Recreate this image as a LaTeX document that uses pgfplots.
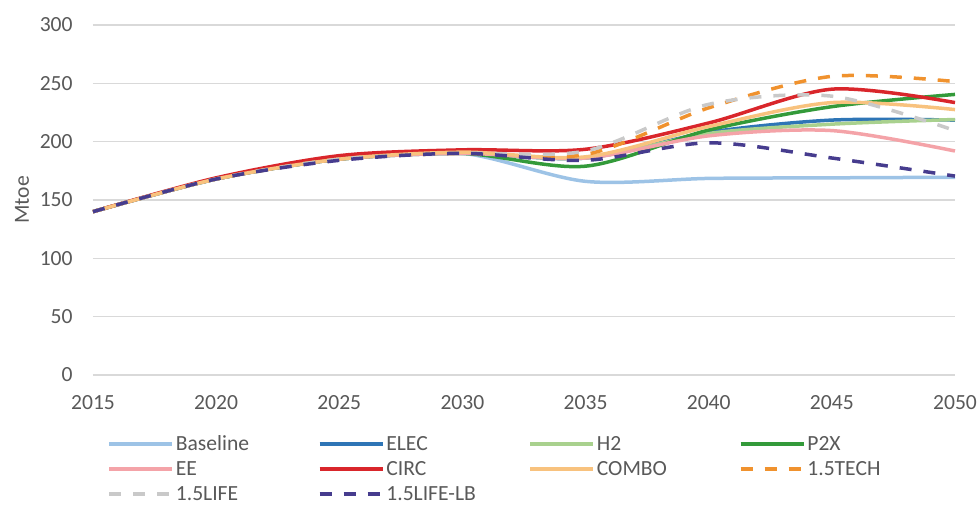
\documentclass[border=0pt]{standalone}
\usepackage{pgfplots}
\pgfplotsset{compat=1.18}
\usepackage{fontspec}
\setmainfont{Carlito}

\definecolor{cBase}{HTML}{9DC3E6}
\definecolor{cElec}{HTML}{2E75B6}
\definecolor{cHtwo}{HTML}{A9D18E}
\definecolor{cPtwoX}{HTML}{339A3A}
\definecolor{cEE}{HTML}{F4A3A8}
\definecolor{cCirc}{HTML}{D9262B}
\definecolor{cCombo}{HTML}{F8C27E}
\definecolor{cTech}{HTML}{F0922E}
\definecolor{cLife}{HTML}{C9C9C9}
\definecolor{cLifeLB}{HTML}{463C8E}
\definecolor{txt}{HTML}{595959}
\definecolor{gridc}{HTML}{D9D9D9}

\newcommand{\legtext}[1]{\makebox[71pt][l]{#1}}

\begin{document}
\fontsize{10.8}{13}\selectfont
\begin{tikzpicture}
\path[use as bounding box] (-46.5pt,-64.5pt) rectangle (443pt,187.5pt);
\begin{axis}[
  scale only axis,
  width=431pt, height=175pt,
  xmin=2015, xmax=2050, ymin=0, ymax=300,
  xtick={2015,2020,...,2050},
  ytick={0,50,...,300},
  /pgf/number format/1000 sep={},
  /pgf/number format/assume math mode=true,
  major tick length=0pt,
  axis line style={draw=none},
  ymajorgrids,
  major grid style={draw=gridc, line width=0.75pt},
  tick label style={font=\fontsize{10.8}{13}\selectfont, text=txt},
  xticklabel style={anchor=center, inner sep=0pt, yshift=-14pt},
  yticklabel style={anchor=east, inner sep=0pt, xshift=-10pt},
  ylabel={Mtoe},
  ylabel style={at={(axis description cs:-0.0824,0.5)}, anchor=center, font=\fontsize{10.8}{13}\selectfont, text=txt},
  clip=false,
  every axis plot/.append style={smooth, line width=1.75pt},
  legend columns=4,
  legend image code/.code={\draw[#1] (0pt,0pt) -- (31.5pt,0pt);},
  legend style={
    at={(axis description cs:0.0162,-0.1714)}, anchor=north west,
    draw=none, fill=none, inner sep=0pt,
    font=\fontsize{10.8}{13}\selectfont, text=txt,
    nodes={inner sep=0pt, text height=7.5pt, text depth=1pt},
    row sep=4pt,
    /tikz/every odd column/.style={column sep=1pt},
    /tikz/every even column/.style={column sep=0pt},
  },
]
% years: 2015 2020 2025 2030 2035 2040 2045 2050
\addplot[cBase] coordinates {(2015,140) (2020,168) (2025,185) (2030,190) (2035,166) (2040,168.5) (2045,169) (2050,169.5)};
\addlegendentry{\legtext{Baseline}}
\addplot[cElec] coordinates {(2015,140) (2020,168) (2025,185) (2030,190) (2035,186) (2040,208) (2045,218.5) (2050,218.5)};
\addlegendentry{\legtext{ELEC}}
\addplot[cHtwo] coordinates {(2015,140) (2020,168) (2025,185) (2030,190) (2035,186) (2040,207) (2045,215) (2050,219)};
\addlegendentry{\legtext{H2}}
\addplot[cPtwoX] coordinates {(2015,140) (2020,168) (2025,185) (2030,190) (2035,179) (2040,210) (2045,230) (2050,240.5)};
\addlegendentry{\legtext{P2X}}
\addplot[cEE] coordinates {(2015,140) (2020,168) (2025,185) (2030,190) (2035,186) (2040,205) (2045,209.5) (2050,192)};
\addlegendentry{\legtext{EE}}
\addplot[cCirc] coordinates {(2015,140) (2020,169) (2025,188) (2030,193) (2035,193.5) (2040,216) (2045,245) (2050,233.5)};
\addlegendentry{\legtext{CIRC}}
\addplot[cCombo] coordinates {(2015,140) (2020,168) (2025,185) (2030,191) (2035,187) (2040,213) (2045,233.5) (2050,227.5)};
\addlegendentry{\legtext{COMBO}}
\addplot[cTech, dash pattern=on 6pt off 6pt] coordinates {(2015,140) (2020,168) (2025,185) (2030,190) (2035,189) (2040,229) (2045,256) (2050,251.5)};
\addlegendentry{\legtext{1.5TECH}}
\addplot[cLife, dash pattern=on 6pt off 6pt] coordinates {(2015,140) (2020,168) (2025,185) (2030,190) (2035,192) (2040,232) (2045,239) (2050,209.5)};
\addlegendentry{\legtext{1.5LIFE}}
\addplot[cLifeLB, dash pattern=on 6pt off 6pt] coordinates {(2015,140) (2020,168) (2025,184) (2030,190) (2035,184) (2040,199) (2045,186) (2050,170.5)};
\addlegendentry{\legtext{1.5LIFE-LB}}
\end{axis}
\end{tikzpicture}
\end{document}
